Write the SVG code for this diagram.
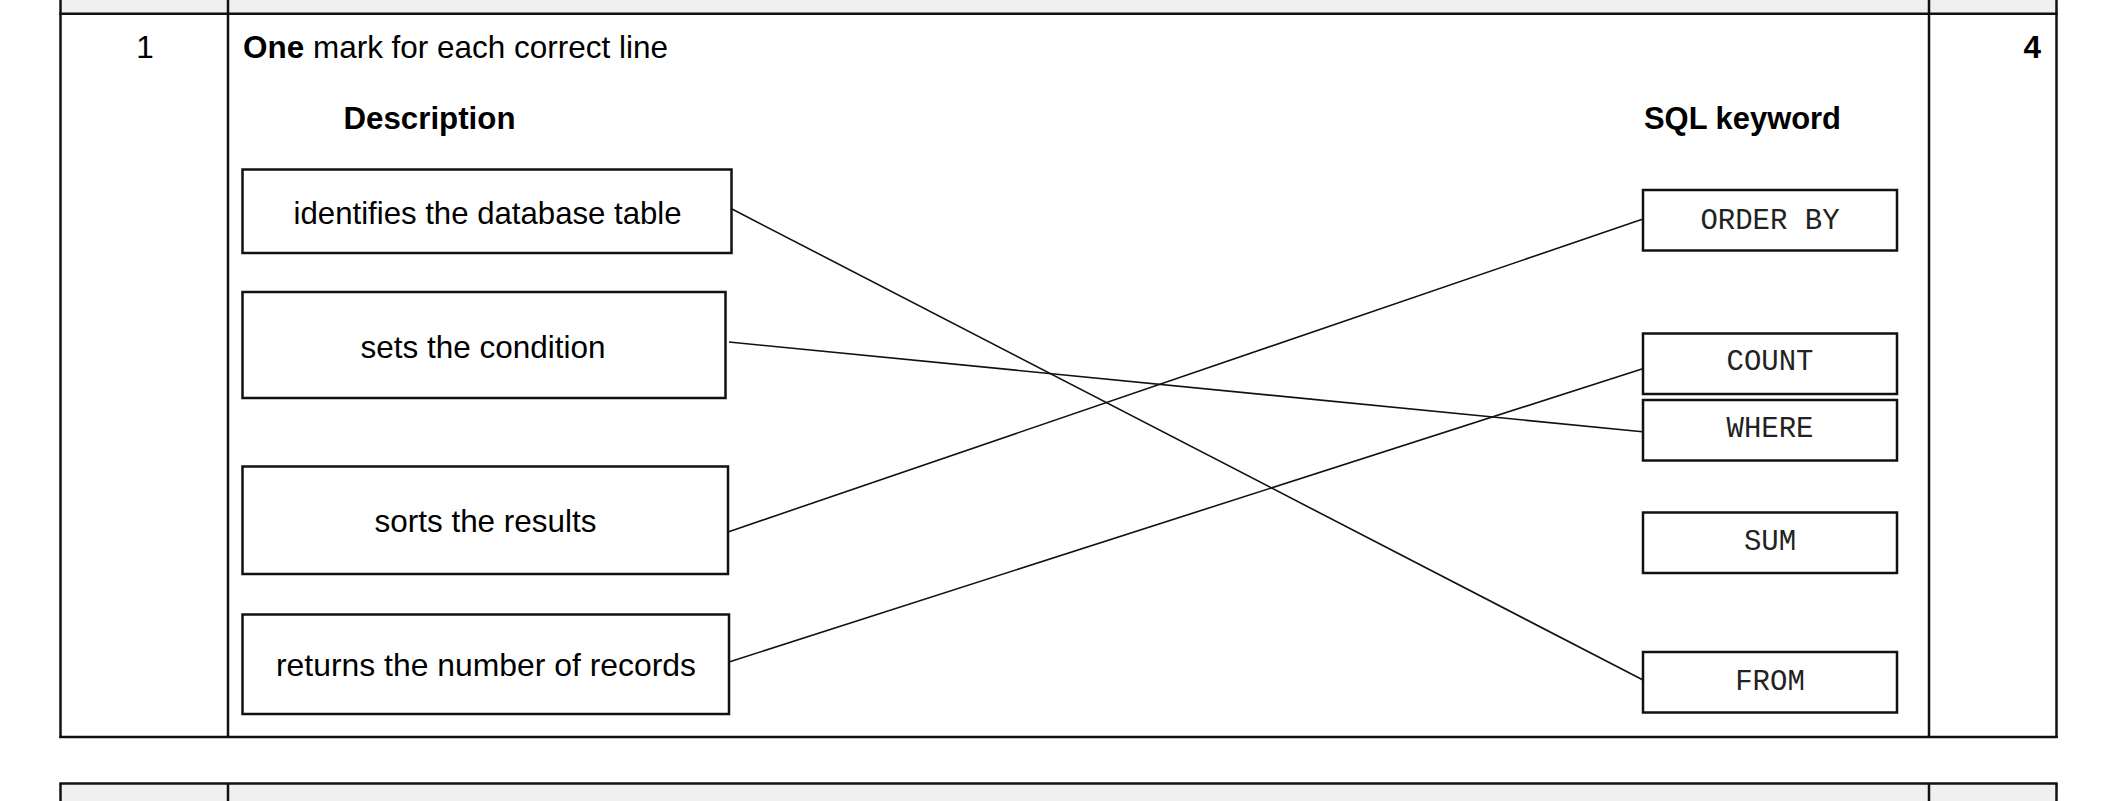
<svg xmlns="http://www.w3.org/2000/svg" width="2112" height="801" viewBox="0 0 2112 801">
<style>
.t{font-family:"Liberation Sans",Arial,sans-serif;font-size:31.5px;fill:#000}
.b{font-weight:bold}
.m{font-family:"Liberation Mono","Courier New",monospace;font-size:29px;fill:#222;text-anchor:middle}
.c{text-anchor:middle}
.box{fill:#fff;stroke:#111;stroke-width:2.5}
.grid{stroke:#111;stroke-width:2.5;fill:none}
.link{stroke:#111;stroke-width:1.6;fill:none}
</style>
<rect width="2112" height="801" fill="#fff"/>
<g id="table">
<rect x="60.5" y="0" width="1996" height="13.7" fill="#f0f0f0"/>
<rect x="60.5" y="783.5" width="1996" height="18" fill="#f0f0f0"/>
<line class="grid" x1="60.5" y1="0" x2="60.5" y2="738"/>
<line class="grid" x1="228" y1="0" x2="228" y2="738"/>
<line class="grid" x1="1929" y1="0" x2="1929" y2="738"/>
<line class="grid" x1="2056.5" y1="0" x2="2056.5" y2="738"/>
<line class="grid" x1="59.3" y1="13.7" x2="2057.7" y2="13.7"/>
<line class="grid" x1="59.3" y1="737" x2="2057.7" y2="737"/>
<line class="grid" x1="59.3" y1="783.5" x2="2057.7" y2="783.5"/>
<line class="grid" x1="60.5" y1="783.5" x2="60.5" y2="801"/>
<line class="grid" x1="228" y1="783.5" x2="228" y2="801"/>
<line class="grid" x1="1929" y1="783.5" x2="1929" y2="801"/>
<line class="grid" x1="2056.5" y1="783.5" x2="2056.5" y2="801"/>
<text class="t c" x="145" y="58">1</text>
<text class="t" x="243" y="58" textLength="425" lengthAdjust="spacingAndGlyphs"><tspan class="b">One</tspan> mark for each correct line</text>
<text class="t b" x="2041" y="58" text-anchor="end">4</text>
<text class="t b" x="343.5" y="129" textLength="172" lengthAdjust="spacingAndGlyphs">Description</text>
<text class="t b" x="1644" y="129" textLength="197" lengthAdjust="spacingAndGlyphs">SQL keyword</text>
</g>
<g id="connectors">
<line class="link" x1="730" y1="208" x2="1643" y2="680"/>
<line class="link" x1="729" y1="342" x2="1645" y2="432"/>
<line class="link" x1="728" y1="532" x2="1643" y2="219"/>
<line class="link" x1="729" y1="662" x2="1645" y2="368"/>
</g>
<g id="desc-table">
<rect class="box" x="242.5" y="169.5" width="489" height="83.5"/>
<text class="t" x="293.6" y="223.5" textLength="388" lengthAdjust="spacingAndGlyphs">identifies the database table</text>
</g>
<g id="desc-condition">
<rect class="box" x="242.5" y="292" width="483" height="106"/>
<text class="t" x="360.6" y="358" textLength="245" lengthAdjust="spacingAndGlyphs">sets the condition</text>
</g>
<g id="desc-sorts">
<rect class="box" x="242.5" y="466.5" width="485.5" height="107.5"/>
<text class="t" x="374.5" y="532" textLength="222" lengthAdjust="spacingAndGlyphs">sorts the results</text>
</g>
<g id="desc-count">
<rect class="box" x="242.5" y="614.5" width="486.5" height="99.5"/>
<text class="t" x="276" y="676" textLength="420" lengthAdjust="spacingAndGlyphs">returns the number of records</text>
</g>
<g id="kw-orderby">
<rect class="box" x="1643" y="190" width="254" height="60.5"/>
<text class="m" x="1770" y="229">ORDER BY</text>
</g>
<g id="kw-count">
<rect class="box" x="1643" y="333.5" width="254" height="60.5"/>
<text class="m" x="1770" y="370">COUNT</text>
</g>
<g id="kw-where">
<rect class="box" x="1643" y="400" width="254" height="60.5"/>
<text class="m" x="1770" y="437">WHERE</text>
</g>
<g id="kw-sum">
<rect class="box" x="1643" y="512.5" width="254" height="60.5"/>
<text class="m" x="1770" y="550">SUM</text>
</g>
<g id="kw-from">
<rect class="box" x="1643" y="652" width="254" height="60.5"/>
<text class="m" x="1770" y="690">FROM</text>
</g>
</svg>
